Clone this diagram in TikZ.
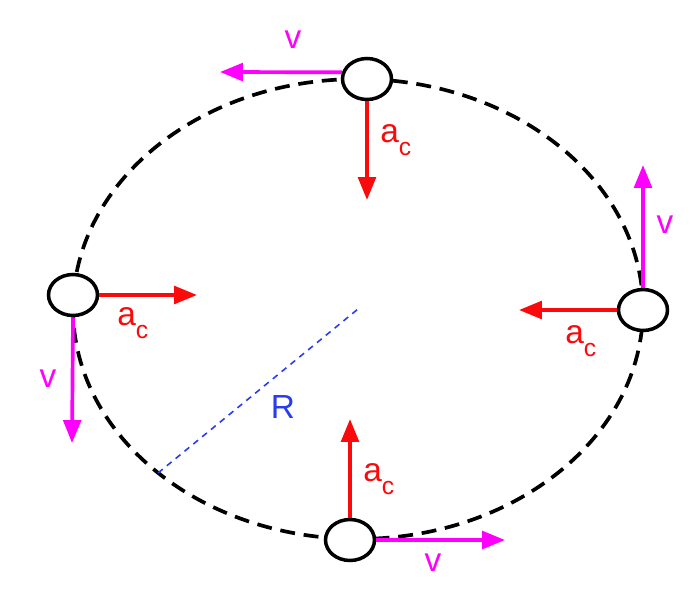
\documentclass[tikz,border=0pt]{standalone}
\usepackage{fontspec}
\setmainfont{Liberation Sans}
\usetikzlibrary{arrows.meta,positioning,calc,shapes.geometric}
\definecolor{vcol}{RGB}{255,0,255}
\definecolor{acol}{RGB}{250,10,10}
\definecolor{rcol}{RGB}{40,60,240}
\newcommand{\aclab}{a\raisebox{-0.4em}{\fontsize{14}{14}\selectfont c}}

\begin{document}
\begin{tikzpicture}[x=0.02cm,y=-0.02cm,
  ball/.style={ellipse, draw=black, fill=white, line width=2pt, inner sep=0, minimum width=0.98cm, minimum height=0.82cm},
  vel/.style={vcol, line width=2.1pt, -{Triangle[length=13pt,width=10pt]}},
  acc/.style={acol, line width=2.1pt, -{Triangle[length=13pt,width=10pt]}},
  lab/.style={inner sep=0, font=\fontsize{19}{22}\selectfont}]
  \useasboundingbox (0,0) rectangle (692,608);
  \coordinate (O) at (358,309);
  \coordinate (Rend) at (158,473);

  % path of the motion
  \draw [line width=2.1pt, dash pattern=on 8.5pt off 5pt] (O) ellipse [x radius=5.7cm, y radius=4.6cm];
  \draw [rcol, line width=0.9pt, dash pattern=on 3.5pt off 3pt] (Rend) -- (O);

  \node (top) [ball] at (367,79) {};
  \node (left) [ball] at (73,295) {};
  \node (right) [ball] at (643,310) {};
  \node (bot) [ball] at (350,540) {};

  \coordinate (topv) at (220,72);
  \coordinate (topa) at (367,200);
  \coordinate (leftv) at (72,443);
  \coordinate (lefta) at (197,295);
  \coordinate (rightv) at (643,165);
  \coordinate (righta) at (519,310);
  \coordinate (botv) at (505,540);
  \coordinate (bota) at (350,419);

  \path
  (top.165) edge [vel] (topv)
  (top.south) edge [acc] (topa)
  (left.south) edge [vel] (leftv)
  (left.east) edge [acc] (lefta)
  (right.north) edge [vel] (rightv)
  (right.west) edge [acc] (righta)
  (bot.east) edge [vel] (botv)
  (bot.north) edge [acc] (bota);

  % labels
  \node (vt) [lab, vcol, anchor=base] at (293,49) {v};
  \node (vl) [lab, vcol, anchor=base] at (48,387) {v};
  \node (vr) [lab, vcol, anchor=base] at (665,233) {v};
  \node (vb) [lab, vcol, anchor=base] at (433,571) {v};
  \node (at) [lab, acol, anchor=base west] at (380,142) {\aclab};
  \node (al) [lab, acol, anchor=base west] at (117,325) {\aclab};
  \node (ar) [lab, acol, anchor=base west] at (565,343) {\aclab};
  \node (ab) [lab, acol, anchor=base west] at (363,481) {\aclab};
  \node (R) [lab, rcol, anchor=base] at (283,418) {R};
\end{tikzpicture}
\end{document}
